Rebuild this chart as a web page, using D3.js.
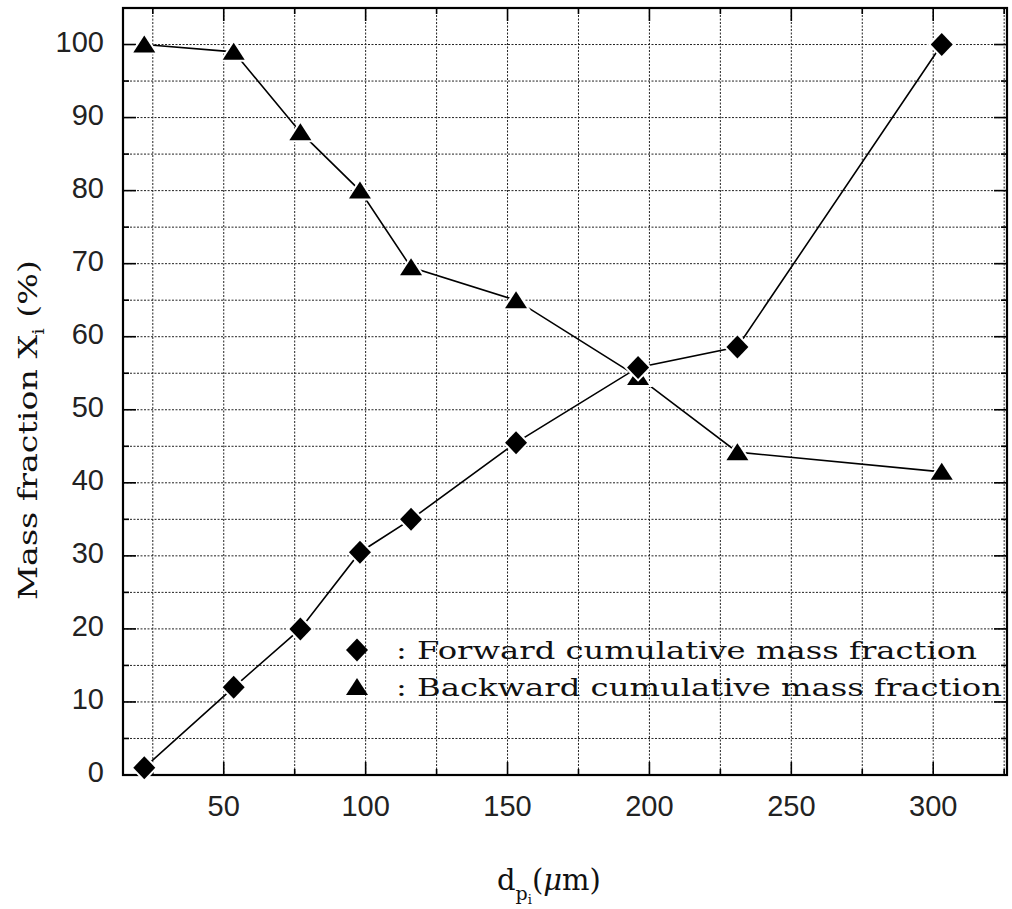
<!DOCTYPE html>
<html>
<head>
<meta charset="utf-8">
<title>Mass fraction</title>
<script src="https://d3js.org/d3.v7.min.js"></script>
<style>
    body { margin: 0; background: white; }
    svg { display: block; }
</style>
</head>
<body>
<div id="chart"></div>
<script>
    // Data
    const sizes = [22, 53.5, 77, 98, 116, 153, 196, 231, 303];
    const forward = [1, 12, 20, 30.5, 35, 45.5, 55.8, 58.6, 100];
    const backward = [100, 99, 88, 80, 69.5, 65, 54.5, 44.2, 41.5];
    const xTicks = [50, 100, 150, 200, 250, 300];
    const yTicks = [0, 10, 20, 30, 40, 50, 60, 70, 80, 90, 100];
    const legendLabels = [": Forward cumulative mass fraction", ": Backward cumulative mass fraction"];

    const W = 1012, H = 909;
    const plotL = 123, plotR = 1007, plotT = 8, plotB = 775;

    const svg = d3.select("#chart").append("svg")
        .attr("width", W)
        .attr("height", H);

    const x = d3.scaleLinear().domain([14.5, 326]).range([plotL, plotR]);
    const y = d3.scaleLinear().domain([0, 105]).range([plotB, plotT]);

    // dotted grid
    const grid = svg.append("g")
        .attr("stroke", "#222")
        .attr("stroke-width", 1)
        .attr("stroke-dasharray", "2,1.5");
    grid.selectAll("line.v")
        .data(d3.range(25, 326, 25))
        .enter().append("line")
        .attr("x1", d => x(d)).attr("x2", d => x(d))
        .attr("y1", plotT).attr("y2", plotB);
    grid.selectAll("line.h")
        .data(d3.range(5, 105, 5))
        .enter().append("line")
        .attr("x1", plotL).attr("x2", plotR)
        .attr("y1", d => y(d)).attr("y2", d => y(d));

    // inward ticks
    const ticks = svg.append("g").attr("stroke", "#000").attr("stroke-width", 1.6);
    d3.range(5, 105, 5).forEach(v => {
        const len = v % 10 === 0 ? 13 : 6;
        ticks.append("line").attr("x1", plotL).attr("x2", plotL + len).attr("y1", y(v)).attr("y2", y(v));
        ticks.append("line").attr("x1", plotR).attr("x2", plotR - len).attr("y1", y(v)).attr("y2", y(v));
    });
    d3.range(25, 326, 25).forEach(v => {
        const len = v % 50 === 0 ? 13 : 6;
        ticks.append("line").attr("x1", x(v)).attr("x2", x(v)).attr("y1", plotB).attr("y2", plotB - len);
        ticks.append("line").attr("x1", x(v)).attr("x2", x(v)).attr("y1", plotT).attr("y2", plotT + len);
    });

    // frame
    svg.append("rect")
        .attr("x", plotL).attr("y", plotT)
        .attr("width", plotR - plotL).attr("height", plotB - plotT)
        .attr("fill", "none")
        .attr("stroke", "#000")
        .attr("stroke-width", 2.2);

    // tick labels
    svg.append("g").selectAll("text")
        .data(yTicks)
        .enter().append("text")
        .attr("x", 104)
        .attr("y", d => y(d) - 3)
        .attr("dy", "0.36em")
        .attr("text-anchor", "end")
        .attr("font-family", "Liberation Sans, Arial, sans-serif")
        .attr("font-size", 29)
        .attr("fill", "#222")
        .text(d => d);

    svg.append("g").selectAll("text")
        .data(xTicks)
        .enter().append("text")
        .attr("x", d => x(d))
        .attr("y", 816)
        .attr("text-anchor", "middle")
        .attr("font-family", "Liberation Sans, Arial, sans-serif")
        .attr("font-size", 29)
        .attr("fill", "#222")
        .text(d => d);

    // series lines
    const line = (vals) => d3.line()
        .x((d, i) => x(sizes[i]))
        .y(d => y(d))(vals);

    svg.append("path").attr("d", line(forward))
        .attr("fill", "none").attr("stroke", "#000").attr("stroke-width", 1.6);
    svg.append("path").attr("d", line(backward))
        .attr("fill", "none").attr("stroke", "#000").attr("stroke-width", 1.6);

    // markers
    const diamond = "M0,-11.5L11,0L0,11.5L-11,0Z";
    const triangle = "M0,-9L11,8L-11,8Z";

    svg.append("g").selectAll("path")
        .data(backward)
        .enter().append("path")
        .attr("d", triangle)
        .attr("transform", (d, i) => `translate(${x(sizes[i])},${y(d)})`)
        .attr("fill", "#000")
        .attr("stroke", "#fff").attr("stroke-width", 4)
        .attr("paint-order", "stroke");

    svg.append("g").selectAll("path")
        .data(forward)
        .enter().append("path")
        .attr("d", diamond)
        .attr("transform", (d, i) => `translate(${x(sizes[i])},${y(d)})`)
        .attr("fill", "#000")
        .attr("stroke", "#fff").attr("stroke-width", 4)
        .attr("paint-order", "stroke");

    // legend
    const legend = svg.append("g");
    legend.append("path").attr("d", diamond).attr("transform", "translate(357,650)").attr("fill", "#000");
    legend.append("path").attr("d", triangle).attr("transform", "translate(357,687)").attr("fill", "#000");
    legend.selectAll("text")
        .data(legendLabels)
        .enter().append("text")
        .attr("x", 396)
        .attr("y", (d, i) => 659 + i * 37)
        .attr("font-family", "DejaVu Serif, serif")
        .attr("font-size", 25)
        .attr("fill", "#111")
        .attr("textLength", (d, i) => i === 0 ? 581 : 606)
        .attr("lengthAdjust", "spacingAndGlyphs")
        .text(d => d);

    // y axis title
    const yt = svg.append("text")
        .attr("transform", "translate(37,430) rotate(-90)")
        .attr("text-anchor", "middle")
        .attr("font-family", "DejaVu Serif, serif")
        .attr("font-size", 26)
        .attr("fill", "#111")
        .attr("textLength", 340)
        .attr("lengthAdjust", "spacingAndGlyphs");
    yt.append("tspan").text("Mass fraction X");
    yt.append("tspan").attr("font-size", 16).attr("dy", 7).text("i");
    yt.append("tspan").attr("dy", -7).text(" (%)");

    // x axis title
    const xt = svg.append("text")
        .attr("x", 497)
        .attr("y", 890)
        .attr("font-family", "DejaVu Serif, serif")
        .attr("font-size", 29)
        .attr("fill", "#111");
    xt.append("tspan").text("d");
    xt.append("tspan").attr("font-size", 19).attr("dy", 10).text("p");
    xt.append("tspan").attr("font-size", 13).attr("dy", 4).text("i");
    xt.append("tspan").attr("dy", -14).text("(");
    xt.append("tspan").attr("font-style", "italic").text("\u03bc");
    xt.append("tspan").text("m)");
</script>
</body>
</html>
